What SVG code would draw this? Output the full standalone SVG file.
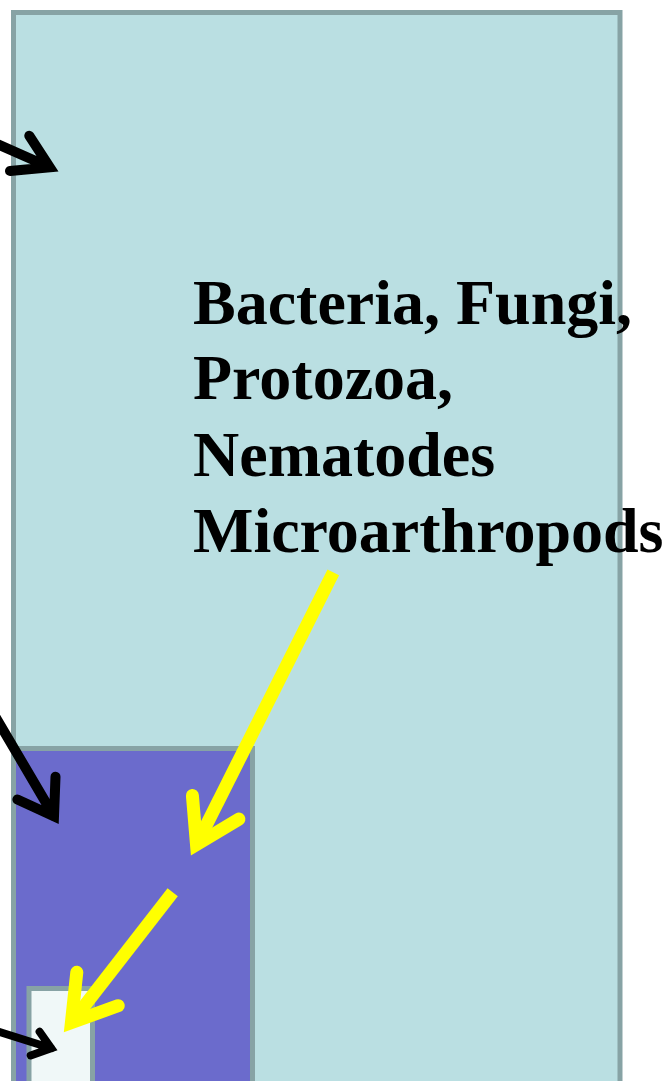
<svg xmlns="http://www.w3.org/2000/svg" width="664" height="1081" viewBox="0 0 664 1081">
<style>
.box{stroke:#87a3a5;stroke-width:5}
.lbl{font-family:"Liberation Serif","Times New Roman",serif;font-weight:bold;font-size:64px;fill:#000}
.blk{fill:none;stroke:#000;stroke-linecap:round;stroke-linejoin:miter}
.ysh{fill:none;stroke:#ffff00;stroke-width:13;stroke-linecap:butt}
.yhd{fill:none;stroke:#ffff00;stroke-width:13;stroke-linecap:round;stroke-linejoin:miter}
</style>
<g id="soil">
<rect class="box" x="13.5" y="12.5" width="606.5" height="1100" fill="#badfe2"/>
</g>
<g id="label">
<text class="lbl" x="193" y="323.5">Bacteria, Fungi,</text>
<text class="lbl" x="193" y="399">Protozoa,</text>
<text class="lbl" x="193" y="475.5">Nematodes</text>
<text class="lbl" x="193" y="552">Microarthropods</text>
</g>
<g id="middle">
<rect class="box" x="13.5" y="748.5" width="239" height="400" fill="#6b6bcc"/>
</g>
<g id="inner">
<rect class="box" x="29" y="988.5" width="63.5" height="200" fill="#f0f8f8"/>
</g>
<g id="connectors">
<path class="blk" stroke-width="10" d="M-5,143 L49.8,167.2 M29.3,135.8 L49.8,167.2 L10,171"/>
<path class="blk" stroke-width="10" d="M-5,716 L54,816.4 M55.5,776.7 L54,816.4 L17.4,799.5"/>
<path class="blk" stroke-width="8" d="M-5,1030.5 L51.2,1048.2 M39.6,1031.7 L51.2,1048.2 L30.7,1055.4"/>
<path class="ysh" d="M333.3,572.3 L196.5,844.6"/>
<path class="yhd" d="M192.4,795.5 L196.5,844.6 L238.9,819.1"/>
<path class="ysh" d="M172.7,892.3 L71.4,1022.6"/>
<path class="yhd" d="M76.8,972.3 L71.4,1022.6 L118.2,1005.7"/>
</g>
</svg>
